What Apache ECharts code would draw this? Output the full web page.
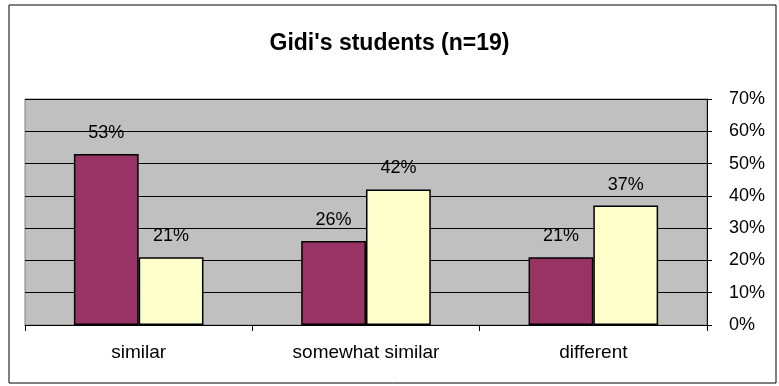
<!DOCTYPE html>
<html>
<head>
<meta charset="utf-8">
<script src="https://cdn.jsdelivr.net/npm/echarts@6/dist/echarts.min.js"></script>
<style>
  html, body { margin: 0; padding: 0; background: #fff; }
  #chart { width: 779px; height: 386px; }
</style>
</head>
<body>
<div id="chart"></div>
<script>
const categories = ['similar', 'somewhat similar', 'different']
const seriesA = [53, 26, 21]
const seriesB = [21, 42, 37]
const yTicks = [0, 10, 20, 30, 40, 50, 60, 70]

const font = '"Liberation Sans", Arial, sans-serif'
const chart = echarts.init(document.getElementById('chart'))

function barSeries(name, data, color) {
  return {
    name: name,
    type: 'bar',
    data: data,
    barGap: '0%',
    barCategoryGap: '43%',
    itemStyle: { color: color, borderColor: '#000', borderWidth: 1.5 },
    label: {
      show: true,
      position: 'top',
      distance: 12,
      formatter: '{c}%',
      color: '#000',
      fontSize: 18,
      fontFamily: font
    },
    animation: false
  }
}

chart.setOption({
  animation: false,
  title: {
    text: "Gidi's students (n=19)",
    left: 'center',
    top: 27,
    textStyle: { fontSize: 23, fontWeight: 'bold', color: '#000', fontFamily: font }
  },
  graphic: [{
    type: 'rect',
    shape: { x: 9, y: 5, width: 767, height: 378 },
    style: { fill: 'none', stroke: '#000', lineWidth: 1 },
    z: -10
  }],
  grid: {
    left: 25, right: 72, top: 99, bottom: 61,
    show: true,
    backgroundColor: '#C0C0C0',
    borderColor: '#808080',
    borderWidth: 1
  },
  xAxis: {
    type: 'category',
    data: categories,
    axisLine: { lineStyle: { color: '#000', width: 1 } },
    axisTick: { show: true, length: 6, lineStyle: { color: '#000' } },
    axisLabel: { color: '#000', fontSize: 19, fontFamily: font, margin: 18 }
  },
  yAxis: {
    type: 'value',
    position: 'right',
    min: 0,
    max: 70,
    interval: 10,
    axisLine: { show: true, lineStyle: { color: '#000' } },
    axisTick: { show: true, length: 5, lineStyle: { color: '#000' } },
    axisLabel: {
      color: '#000', fontSize: 18, fontFamily: font, margin: 22,
      formatter: v => yTicks.includes(v) ? v + '%' : ''
    },
    splitLine: { show: true, lineStyle: { color: '#000', width: 1 } }
  },
  series: [
    barSeries('A', seriesA, '#993366'),
    barSeries('B', seriesB, '#FFFFCC')
  ]
})
</script>
</body>
</html>
